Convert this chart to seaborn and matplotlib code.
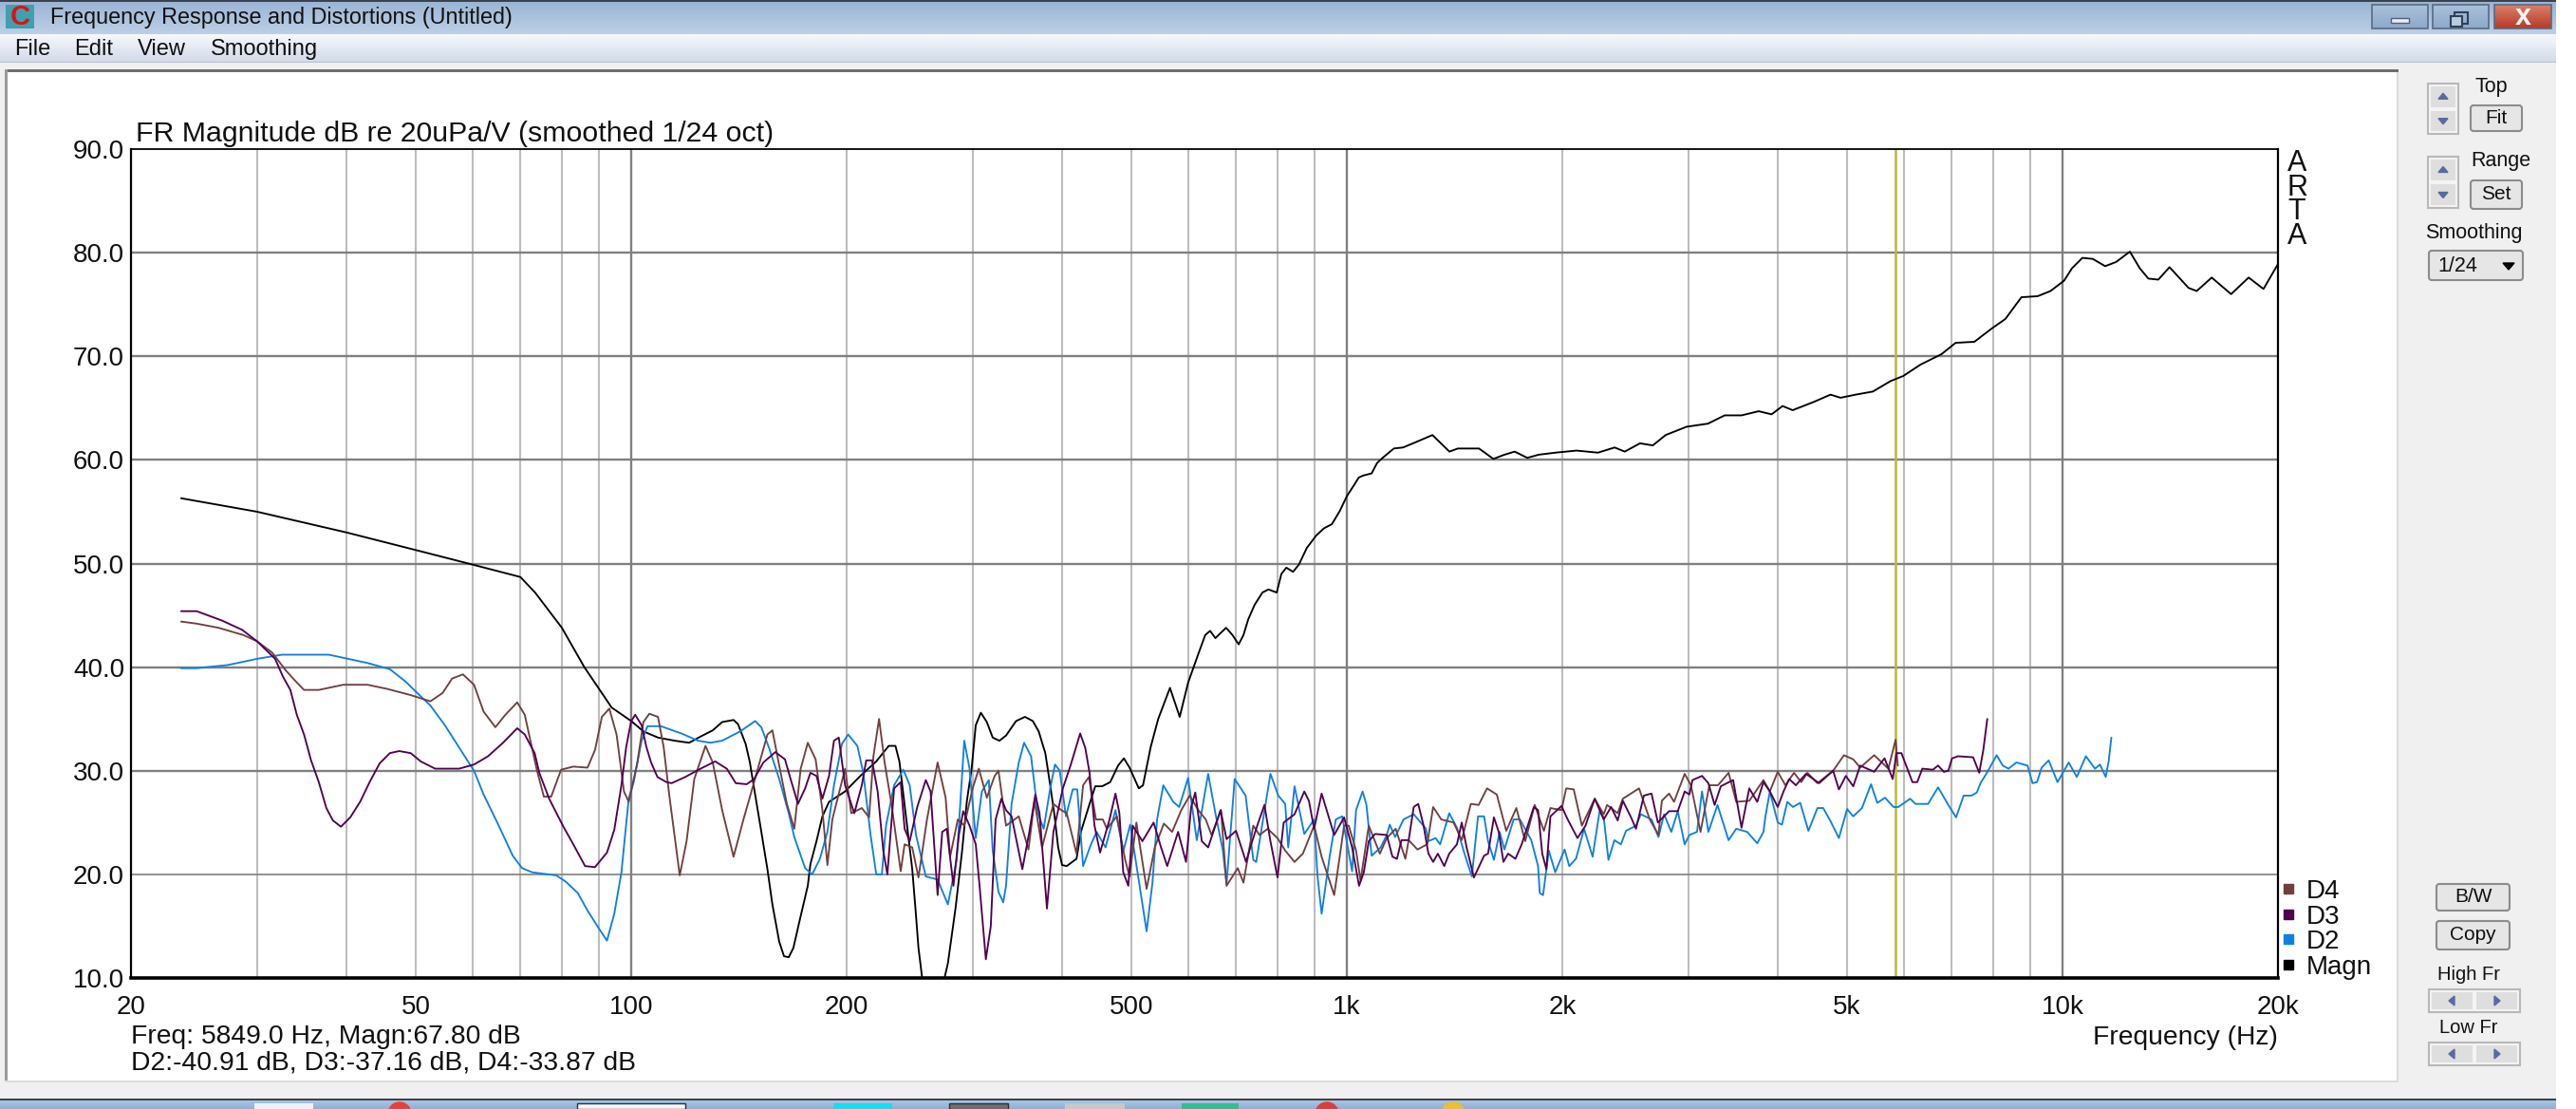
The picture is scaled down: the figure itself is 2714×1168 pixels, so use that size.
import numpy as np
import pandas as pd
import matplotlib
matplotlib.use("Agg")
import matplotlib.pyplot as plt
import seaborn as sns
from matplotlib.lines import Line2D
from matplotlib.patches import Circle, FancyBboxPatch, Polygon, Rectangle

# curves: frequency in Hz, level in dB
FREQ_MAGN = [23.5, 30, 40, 50, 60, 70, 73.4, 80, 86, 91, 93.9, 100, 104, 109, 115, 120.5, 125, 130, 134, 139, 141, 144.5, 146.5, 148.5, 151.5, 155, 157.5, 161, 163.5, 166, 168.5, 172, 176.5, 178, 181.5, 185, 189, 199, 209, 220, 229, 234, 237, 240, 243.5, 247, 249.5, 252, 255, 265, 274, 277, 284, 290, 294.5, 299, 303, 308, 314, 320, 327, 334, 345, 355, 364, 371, 379, 385, 390, 395, 400, 406, 419, 425, 437, 445, 455, 467, 479, 488, 497, 512, 519, 532, 545, 566, 584, 600, 621, 634, 644, 655, 678, 692, 706, 717, 728, 743, 762, 777, 798, 810, 823, 841, 857, 879, 906, 929, 953, 978, 1000, 1024, 1039, 1055, 1083, 1102, 1122, 1163, 1198, 1247, 1317, 1391, 1429, 1530, 1602, 1660, 1716, 1787, 1853, 1956, 2094, 2243, 2367, 2445, 2568, 2676, 2789, 2983, 3196, 3372, 3561, 3762, 3922, 4062, 4197, 4493, 4740, 4895, 5141, 5434, 5747, 5990, 6333, 6773, 7090, 7530, 7970, 8320, 8760, 9230, 9620, 10050, 10310, 10660, 11020, 11470, 11880, 12420, 12820, 13180, 13610, 14110, 15000, 15400, 16160, 17200, 18200, 19090, 20000]
DB_MAGN = [56.3, 55, 53, 51.3, 49.9, 48.7, 47.2, 43.8, 40, 37.5, 36.1, 34.8, 33.8, 33.2, 32.9, 32.7, 33.3, 33.9, 34.7, 34.9, 34.5, 32.6, 30.8, 28.3, 24.7, 20.5, 17.1, 13.5, 12.1, 12, 12.9, 15.6, 18.9, 21, 23.2, 25.6, 27, 28, 29.5, 30.9, 32.4, 32.4, 30.9, 27.7, 24.1, 20.5, 16.8, 12.9, 10, 8.5, 10, 11.4, 16.8, 22.3, 27.1, 30.2, 34.4, 35.6, 34.7, 33.2, 32.9, 33.4, 34.8, 35.2, 34.8, 33.8, 31.7, 28.6, 25.9, 22.6, 20.9, 20.8, 21.5, 24.1, 26.8, 28.5, 28.5, 28.9, 30.5, 31.2, 30.3, 28.3, 28.6, 32.3, 35, 38, 35.2, 38.5, 41.4, 43.1, 43.5, 42.8, 43.8, 43.1, 42.2, 43.1, 44.6, 46, 47.2, 47.5, 47.2, 49, 49.6, 49.2, 49.9, 51.5, 52.7, 53.4, 53.8, 55.1, 56.5, 57.6, 58.3, 58.5, 58.7, 59.7, 60.2, 61.1, 61.2, 61.7, 62.4, 60.8, 61.1, 61.1, 60.1, 60.5, 60.8, 60.2, 60.5, 60.7, 60.9, 60.7, 61.2, 60.8, 61.6, 61.4, 62.4, 63.2, 63.5, 64.3, 64.3, 64.7, 64.4, 65.2, 64.8, 65.6, 66.3, 66, 66.3, 66.6, 67.6, 68.1, 69.2, 70.2, 71.3, 71.4, 72.7, 73.6, 75.7, 75.8, 76.3, 77.3, 78.5, 79.5, 79.4, 78.7, 79.1, 80.1, 78.5, 77.5, 77.4, 78.6, 76.6, 76.3, 77.6, 76, 77.6, 76.5, 78.9]

FREQ_D2 = [23.5, 24.7, 27.3, 30, 32.5, 37.8, 42.8, 46, 48.4, 49.9, 52.4, 54.9, 58.4, 60.3, 62.2, 65.1, 68.3, 70.4, 72.7, 78.6, 81, 84.2, 86.9, 89.7, 92.5, 94.7, 96.9, 99.2, 100.8, 103.4, 105.4, 110, 117.5, 124, 129, 134, 142, 149, 152, 156, 161, 166, 169, 175, 179, 183.5, 188, 192, 197, 201, 207, 211, 216, 220, 224, 227, 233, 240, 245, 250, 258, 268, 277, 285, 292, 297, 303, 309, 316, 320, 326, 331, 334, 340, 348, 354, 362, 370, 377, 385, 391, 397, 405, 414, 420, 428, 439, 447, 460, 475, 487, 498, 514, 525, 535, 543, 554, 572, 583, 600, 617, 640, 655, 671, 679, 697, 722, 740, 747, 782, 802, 820, 828, 845, 872, 900, 910, 922, 946, 965, 985, 1017, 1030, 1052, 1065, 1083, 1115, 1137, 1148, 1168, 1200, 1240, 1290, 1300, 1330, 1350, 1390, 1425, 1460, 1495, 1525, 1555, 1575, 1605, 1635, 1660, 1710, 1745, 1810, 1850, 1860, 1880, 1915, 1955, 2015, 2045, 2090, 2145, 2205, 2255, 2285, 2320, 2365, 2415, 2455, 2535, 2575, 2665, 2725, 2775, 2840, 2900, 2965, 3010, 3085, 3135, 3200, 3295, 3415, 3500, 3625, 3745, 3820, 3845, 3900, 4000, 4055, 4125, 4200, 4300, 4415, 4545, 4630, 4735, 4870, 5000, 5100, 5245, 5400, 5510, 5650, 5805, 5895, 6125, 6230, 6490, 6700, 6925, 7100, 7275, 7460, 7590, 7680, 7840, 8090, 8250, 8405, 8620, 8935, 9080, 9210, 9350, 9565, 9840, 10200, 10470, 10780, 11100, 11280, 11490, 11600, 11700]
DB_D2 = [39.9, 39.9, 40.2, 40.8, 41.2, 41.2, 40.4, 39.8, 38.6, 37.7, 36.3, 34.4, 31.5, 30, 27.7, 24.9, 21.8, 20.6, 20.2, 19.9, 19.3, 18.2, 16.5, 15, 13.6, 16.2, 20.2, 27.3, 28.9, 32.9, 34.3, 34.3, 33.6, 32.9, 32.7, 32.9, 33.8, 34.8, 34.2, 32.1, 29.2, 25.9, 23.6, 20.6, 20, 21.5, 24.1, 28.6, 32.6, 33.5, 32.4, 29.8, 23.8, 20, 20, 24.7, 28.6, 30.1, 28.6, 23.8, 19.8, 19.5, 17.1, 21.4, 32.9, 30.2, 23.5, 28, 29.1, 22.3, 18.3, 17.3, 18.9, 26.8, 30.8, 32.7, 31.4, 25.9, 24.4, 28.3, 30.6, 30, 25.6, 28.2, 28.2, 20.8, 22.9, 24.1, 22.6, 26.2, 22.2, 24.8, 18.6, 14.5, 19.2, 25.3, 28.6, 27, 26.5, 29.3, 23.3, 29.7, 25.9, 22.3, 19.1, 29.2, 27.6, 21.4, 21.2, 29.7, 27.6, 26.8, 22.6, 28.5, 23.9, 25.3, 19.8, 16.2, 21.7, 25.3, 25.6, 20.3, 26.2, 28, 26.7, 21.8, 22.6, 23.8, 24.8, 23.6, 25.3, 25.8, 24.4, 23.2, 23.5, 22.9, 25.9, 24.5, 22, 19.8, 25.6, 25.6, 23.2, 21.4, 24.1, 22.4, 25.3, 25.3, 23.3, 20.8, 18.2, 18, 22.3, 20.2, 22.4, 20.8, 21.5, 24.4, 21.7, 26.1, 25.5, 21.4, 23.3, 22.9, 24.2, 24.7, 25.8, 25.3, 23.6, 25.8, 24.1, 26.1, 22.9, 23.8, 24.1, 28, 24.1, 26.7, 23.3, 24.4, 24.1, 23, 24.1, 25.6, 28, 25, 24.8, 27, 26.5, 26.9, 24.2, 26.4, 26.4, 25.2, 23.5, 26.3, 25.6, 26.4, 28.7, 26.9, 27.4, 26.5, 26.5, 27.3, 26.8, 26.8, 28.4, 26.7, 25.5, 27.6, 27.6, 27.9, 28.8, 29.8, 31.5, 30.5, 30.2, 30.8, 30.5, 28.8, 28.9, 30.3, 31, 28.9, 30.8, 29.4, 31.4, 30.2, 30.6, 29.4, 30.9, 33.2]

FREQ_D3 = [23.5, 24.7, 26.8, 28.6, 30, 31.8, 32.6, 33.4, 34.1, 34.9, 35.7, 36.6, 37.5, 38.3, 39.3, 40.5, 41.8, 43.1, 44.5, 46, 47.4, 49.2, 50.8, 53.2, 57.5, 60.3, 63.1, 66.2, 69.3, 71, 73.3, 74.4, 76.8, 80.4, 83, 86.2, 89, 92.5, 94.7, 96.9, 98.4, 100, 101.3, 103.4, 105, 106.6, 108.8, 112, 113.9, 119, 125, 131, 136, 140, 145, 148.5, 153, 159, 164, 167, 171, 175, 178, 181.5, 185, 189, 192, 195, 199, 205, 210, 213, 217, 221, 225, 228, 233, 238, 241, 245, 251, 258, 262, 268, 272, 276, 282, 287, 291, 297, 303, 307, 313, 318, 323, 329, 334, 340, 352, 360, 367, 372, 381, 389, 395, 401, 411, 424, 431, 437, 444, 452, 466, 475, 481, 487, 495, 502, 518, 537, 550, 561, 581, 596, 606, 614, 627, 640, 666, 679, 700, 723, 735, 752, 767, 782, 800, 816, 845, 872, 885, 900, 922, 960, 991, 1017, 1040, 1056, 1073, 1095, 1137, 1158, 1175, 1192, 1220, 1240, 1258, 1280, 1300, 1320, 1340, 1368, 1390, 1425, 1447, 1470, 1505, 1555, 1575, 1605, 1630, 1655, 1680, 1720, 1755, 1825, 1850, 1875, 1900, 1925, 1995, 2035, 2100, 2155, 2220, 2285, 2340, 2390, 2430, 2495, 2535, 2600, 2665, 2720, 2820, 2900, 2965, 3010, 3040, 3135, 3200, 3265, 3330, 3465, 3560, 3650, 3745, 3820, 3900, 4000, 4075, 4150, 4240, 4380, 4570, 4780, 4870, 4980, 5100, 5215, 5455, 5640, 5790, 5860, 5955, 6170, 6265, 6370, 6590, 6700, 6825, 6925, 7010, 7145, 7500, 7650, 7750, 7850]
DB_D3 = [45.4, 45.4, 44.5, 43.6, 42.5, 40.8, 39.1, 37.8, 35.4, 33.5, 31, 28.9, 26.4, 25.2, 24.6, 25.5, 27, 28.9, 30.7, 31.7, 31.9, 31.7, 30.9, 30.2, 30.2, 30.6, 31.4, 32.7, 34.1, 33.5, 31.7, 29.8, 27.3, 24.6, 22.9, 20.8, 20.7, 22.1, 24.3, 28.6, 32.3, 34.8, 35.4, 34.4, 32.3, 30.8, 29.4, 28.9, 28.8, 29.4, 30.2, 30.9, 30.2, 28.8, 28.7, 29.2, 30.8, 31.8, 31.1, 29.2, 26.8, 28.3, 29.8, 29.5, 27.3, 29.5, 32.9, 33.2, 28.6, 25.9, 28.6, 31, 31, 28, 22.3, 20, 28.3, 28.9, 24.4, 23.2, 26.5, 29.1, 28, 18, 24.1, 24.4, 18.9, 23.8, 26.1, 24.7, 22.9, 18.6, 11.8, 15, 25.3, 27.3, 26.2, 25.6, 20.5, 24.1, 27.7, 25.9, 16.7, 24.1, 26.2, 28.3, 30.5, 33.6, 32.2, 29.8, 24.7, 22.1, 25.3, 27.8, 25.9, 20.2, 18.9, 24.7, 23.2, 25, 22.6, 20.8, 24.1, 21.2, 26.5, 27.9, 23.2, 22.6, 26.2, 23.4, 24.2, 21.2, 22.9, 25, 26.7, 23.2, 19.7, 25, 25.8, 28, 27.1, 24.4, 27.8, 23.8, 25.5, 22.6, 18.9, 20.2, 23.2, 23.9, 23.8, 21.7, 21.5, 23.3, 23.3, 26.5, 26.8, 24.7, 22, 21.2, 22, 20.8, 22, 22.9, 25, 22.6, 19.7, 21.8, 22, 25.5, 24.1, 21.2, 22, 21.5, 22.9, 26.5, 26.2, 22, 20.5, 25.6, 26.6, 25.3, 23.5, 24.7, 27.3, 25.3, 26.5, 25.2, 27.1, 25.5, 24.4, 27.6, 27.8, 25, 26.1, 26.1, 28, 27.7, 29.1, 29.5, 28.8, 26.7, 28.5, 29.1, 24.5, 28.3, 27, 28.9, 28, 26.5, 28, 29.2, 28.6, 29.7, 28.8, 30, 28.2, 29.5, 28.5, 30.5, 29.9, 31.2, 29.2, 31.7, 31.7, 28.9, 28.9, 30.2, 30.1, 30.5, 29.9, 30, 31.2, 31.4, 31.3, 29.8, 32, 35]

FREQ_D4 = [23.5, 24.7, 26.5, 28.7, 30, 31.5, 32.9, 33.9, 34.9, 36.6, 39.6, 42.8, 45.6, 49.2, 52.4, 54.5, 56.2, 58.2, 60.3, 62.2, 64.6, 66.7, 69.3, 71, 73.8, 75.5, 77.3, 79.8, 83, 86.9, 89, 91, 93.2, 95.4, 97.7, 99.2, 102, 104, 106, 109, 111, 113, 116.9, 119.5, 122.5, 127, 130, 134, 139, 143.5, 148.5, 155, 157.5, 161, 165, 169, 172.5, 176.5, 181, 185, 188, 191, 199, 203, 210, 215, 218, 222, 226, 231, 238, 241, 247, 252, 259, 268, 275, 279, 286, 292, 300, 306, 314, 322, 326, 334, 348, 359, 366, 375, 389, 399, 406, 419, 428, 436, 446, 456, 462, 477, 490, 497, 508, 525, 539, 555, 570, 587, 603, 620, 635, 647, 667, 679, 704, 717, 740, 755, 775, 800, 820, 845, 868, 900, 922, 960, 980, 991, 1006, 1030, 1045, 1073, 1112, 1137, 1170, 1207, 1220, 1255, 1295, 1320, 1355, 1410, 1447, 1490, 1528, 1570, 1620, 1670, 1725, 1775, 1830, 1885, 1925, 1995, 2025, 2075, 2130, 2220, 2285, 2310, 2390, 2430, 2560, 2650, 2725, 2755, 2820, 2865, 2965, 3025, 3120, 3210, 3300, 3415, 3500, 3650, 3820, 3900, 4000, 4100, 4215, 4315, 4400, 4545, 4780, 4950, 5100, 5215, 5455, 5710, 5845, 5885]
DB_D4 = [44.4, 44.2, 43.8, 43.1, 42.5, 41.4, 39.7, 38.7, 37.8, 37.8, 38.3, 38.3, 37.9, 37.3, 36.7, 37.5, 38.9, 39.3, 38.3, 35.7, 34.2, 35.4, 36.6, 35.4, 30.1, 27.5, 27.5, 30.1, 30.4, 30.3, 32, 35.2, 36, 33.5, 28, 27, 30.8, 34.7, 35.5, 35.2, 32.3, 27.7, 19.9, 23.2, 29.2, 32.4, 30.8, 26.2, 21.7, 25.3, 28.9, 33.5, 33.9, 30.5, 26.8, 24.4, 30.2, 32.7, 31.1, 26.2, 20.9, 25.3, 30.2, 25.9, 26.4, 25.5, 31.4, 35, 30.8, 26.8, 20.3, 22.9, 22.6, 19.7, 25.3, 30.8, 27.4, 21.7, 25.3, 24.7, 28.3, 30.2, 27.4, 29.5, 30, 24.7, 25.6, 22.4, 27.1, 22.6, 26.8, 26.2, 25.9, 22, 28.6, 29.4, 25.3, 25.3, 24.4, 25.6, 21.4, 19.8, 25, 18.6, 22.6, 24.9, 24.1, 26.2, 27.6, 26.2, 25.3, 23.8, 26.2, 18.9, 20.6, 19.2, 24.7, 23.8, 24.4, 23.5, 22.3, 21.2, 22, 24.7, 21.7, 18, 22.3, 24.7, 24.7, 22.3, 19.4, 24.7, 22, 23.5, 24.4, 21.5, 23.3, 22.4, 22.9, 26.5, 25.3, 25, 23.3, 26.8, 26.7, 28.3, 27.7, 24.2, 26.4, 23.2, 26.7, 24.2, 26.4, 26.2, 28.3, 28.2, 24.7, 27.3, 25.8, 26.7, 25.9, 27.3, 28.3, 25.3, 23.8, 27.1, 27.8, 27, 29.7, 28.6, 24.1, 28.6, 28.6, 29.8, 27, 27.1, 29.1, 28, 29.9, 28.6, 29.8, 28.9, 29.8, 28.8, 30, 31.5, 31.1, 30.3, 31.5, 30.2, 33, 30.5]

SERIES_NAMES = ["Magn", "D2", "D4", "D3"]
LEGEND_ORDER = ["D4", "D3", "D2", "Magn"]
COLORS = {"Magn": "#000000", "D2": "#1080e0", "D3": "#500050", "D4": "#704040"}

Y_TICKS = [10, 20, 30, 40, 50, 60, 70, 80, 90]
X_TICKS = [20, 50, 100, 200, 500, 1000, 2000, 5000, 10000, 20000]
X_LABELS = ["20", "50", "100", "200", "500", "1k", "2k", "5k", "10k", "20k"]
GRID_LIGHT = [30, 40, 50, 60, 70, 80, 90, 200, 300, 400, 500, 600, 700, 800, 900,
              2000, 3000, 4000, 5000, 6000, 7000, 8000, 9000]
GRID_DARK = [100, 1000, 10000]
CURSOR_FREQ = 5849

W, H = 2714, 1168
PLOT = (138, 157, 2400, 1030)  # left, top, right, bottom in pixels

sns.set_style("white")
plt.rcParams["font.family"] = ["Liberation Sans", "DejaVu Sans"]

fig = plt.figure(figsize=(W / 100, H / 100), dpi=100, facecolor="white")

# window chrome drawn in pixel coordinates behind the chart
bg = fig.add_axes([0, 0, 1, 1], zorder=0)
bg.set_xlim(0, W)
bg.set_ylim(H, 0)
bg.axis("off")


def rect(x0, y0, x1, y1, color, edge="none", lw=0, z=1):
    bg.add_patch(Rectangle((x0, y0), x1 - x0, y1 - y0, facecolor=color, edgecolor=edge, linewidth=lw, zorder=z))


def vgrad(x0, y0, x1, y1, top, bottom, z=1):
    c0, c1 = matplotlib.colors.to_rgb(top), matplotlib.colors.to_rgb(bottom)
    g = np.linspace(0, 1, 32)[:, None, None]
    img = (1 - g) * np.array(c0)[None, None, :] + g * np.array(c1)[None, None, :]
    bg.imshow(img, extent=(x0, x1, y1, y0), aspect="auto", zorder=z, interpolation="bilinear")
    bg.set_xlim(0, W)
    bg.set_ylim(H, 0)


def label(x, y, s, size=15.5, ha="left", color="#101010", **kw):
    bg.text(x, y, s, fontsize=size, ha=ha, va="center", color=color, zorder=5, **kw)


def button(x0, y0, x1, y1, s=None, size=15):
    bg.add_patch(FancyBboxPatch((x0 + 3, y0 + 3), x1 - x0 - 6, y1 - y0 - 6, boxstyle="round,pad=3",
                                facecolor="#e6e6e6", edgecolor="#8c8c8c", linewidth=1.5, zorder=3))
    if s:
        label((x0 + x1) / 2, (y0 + y1) / 2, s, size=size, ha="center")


def spin(x0, y0, x1, y1, vertical=True):
    rect(x0, y0, x1, y1, "#f4f4f4", "#b8b8b8", 1.5, 3)
    if vertical:
        m = (y0 + y1) / 2
        cx = (x0 + x1) / 2
        rect(x0 + 3, y0 + 3, x1 - 3, m - 2, "#dedede", z=3)
        rect(x0 + 3, m + 2, x1 - 3, y1 - 3, "#dedede", z=3)
        bg.add_patch(Polygon([(cx - 5, (y0 + m) / 2 + 3), (cx + 5, (y0 + m) / 2 + 3), (cx, (y0 + m) / 2 - 3)], color="#5a6aa0", zorder=4))
        bg.add_patch(Polygon([(cx - 5, (y1 + m) / 2 - 3), (cx + 5, (y1 + m) / 2 - 3), (cx, (y1 + m) / 2 + 3)], color="#5a6aa0", zorder=4))
    else:
        m = (x0 + x1) / 2
        cy = (y0 + y1) / 2
        rect(x0 + 3, y0 + 3, m - 2, y1 - 3, "#dedede", z=3)
        rect(m + 2, y0 + 3, x1 - 3, y1 - 3, "#dedede", z=3)
        cl, cr = (x0 + m) / 2, (x1 + m) / 2
        bg.add_patch(Polygon([(cl + 3, cy - 5), (cl + 3, cy + 5), (cl - 3, cy)], color="#5a6aa0", zorder=4))
        bg.add_patch(Polygon([(cr - 3, cy - 5), (cr - 3, cy + 5), (cr + 3, cy)], color="#5a6aa0", zorder=4))


# window frame
rect(0, 0, 2693, 1158, "#f0f0f0")
rect(0, 0, 2693, 2, "#3a4250", z=2)
vgrad(0, 2, 2693, 36, "#9ab5d4", "#bcd0e6", z=2)
vgrad(0, 36, 2693, 65, "#f6f8fc", "#d2dbea", z=2)
rect(0, 65, 2693, 66, "#b8c0cc", z=2)

# title bar and menu
rect(6, 5, 36, 30, "#3fa0b0", z=3)
label(21, 18, "C", size=21, ha="center", color="#e01010", fontweight="bold")
label(53, 18, "Frequency Response and Distortions (Untitled)", size=16.8)
for x, s in zip([15, 78, 145, 222], ["File", "Edit", "View", "Smoothing"]):
    label(x, 52, s, size=17)
for x0, x1, top, bottom in [(2499, 2558, "#a9c0da", "#8ea9c9"), (2563, 2622, "#a9c0da", "#8ea9c9"), (2628, 2688, "#d9806c", "#b83a28")]:
    vgrad(x0, 5, x1, 30, top, bottom, z=3)
    bg.add_patch(Rectangle((x0, 5), x1 - x0, 25, facecolor="none", edgecolor="#5a6a80", linewidth=1.2, zorder=4))
rect(2519, 19, 2538, 24, "#e8eef6", "#50607a", 1, 5)
rect(2586, 13, 2600, 25, "none", "#30405a", 1.5, 5)
rect(2582, 17, 2594, 28, "#b8cbe0", "#30405a", 1.5, 5)
label(2658, 18, "x", size=22, ha="center", color="#f4f4f4", fontweight="bold")

# white plot panel
rect(5, 73, 2527, 1140, "white", z=2)
rect(5, 73, 2527, 76, "#6e6e6e", z=3)
rect(5, 73, 8, 1140, "#9a9a9a", z=3)
rect(2525, 76, 2527, 1140, "#dcdcdc", z=3)
rect(5, 1138, 2527, 1140, "#dcdcdc", z=3)

# right hand controls
spin(2558, 88, 2590, 141)
label(2625, 92, "Top", size=15.5, ha="center")
button(2603, 111, 2657, 138, "Fit")
spin(2558, 165, 2590, 219)
label(2635, 169, "Range", size=15.5, ha="center")
button(2603, 190, 2657, 220, "Set")
label(2606, 245, "Smoothing", size=15.5, ha="center")
button(2559, 264, 2658, 295)
label(2568, 280, "1/24", size=15.5)
bg.add_patch(Polygon([(2637, 277), (2649, 277), (2643, 284)], color="black", zorder=5))
button(2567, 931, 2644, 959, "B/W", size=15)
button(2567, 970, 2644, 1000, "Copy", size=15)
label(2601, 1026, "High Fr", size=14.5, ha="center")
spin(2559, 1042, 2655, 1066, vertical=False)
label(2601, 1083, "Low Fr", size=14.5, ha="center")
spin(2559, 1098, 2655, 1122, vertical=False)

# taskbar strip
rect(0, 1157, 2693, 1159, "#3a4250", z=2)
vgrad(0, 1159, 2693, H, "#a9c4e0", "#8fb0d4", z=2)
for x0, x1, c in [(268, 330, "#eef2f6"), (608, 722, "#f4f6f8"), (878, 940, "#10e0f0"), (1000, 1062, "#707070"),
                  (1122, 1185, "#c8c8c8"), (1245, 1305, "#30c090")]:
    rect(x0, 1162, x1, H, c, "#303030" if x0 in (608, 1000) else "none", 1, 3)
for cx, c in [(421, "#e84040"), (1398, "#d84040"), (1531, "#e8c030")]:
    bg.add_patch(Circle((cx, 1173), 12, color=c, zorder=3))

# chart
ax = fig.add_axes([PLOT[0] / W, 1 - PLOT[3] / H, (PLOT[2] - PLOT[0]) / W, (PLOT[3] - PLOT[1]) / H], zorder=2)
ax.set_facecolor("white")
ax.set_xscale("log")

for f in GRID_LIGHT:
    ax.axvline(f, color="#bdbdbd", lw=1.5, zorder=1)
for f in GRID_DARK:
    ax.axvline(f, color="#808080", lw=1.7, zorder=1)
for y in Y_TICKS[1:-1]:
    ax.axhline(y, color="#808080", lw=1.7 if y != 20 else 1.2, zorder=1)
ax.axvline(CURSOR_FREQ, color="#b8b838", lw=1.8, zorder=1.5)

curves = {
    "Magn": (FREQ_MAGN, DB_MAGN),
    "D2": (FREQ_D2, DB_D2),
    "D3": (FREQ_D3, DB_D3),
    "D4": (FREQ_D4, DB_D4),
}
for name in SERIES_NAMES:
    freq, db = curves[name]
    frame = pd.DataFrame({"freq": freq, "db": db})
    sns.lineplot(data=frame, x="freq", y="db", estimator=None, color=COLORS[name],
                 lw=1.35, ax=ax, zorder=3)

ax.set_xlim(20, 20000)
ax.set_ylim(10, 90)
ax.set_xticks(X_TICKS)
ax.set_xticklabels(X_LABELS)
ax.xaxis.set_minor_locator(matplotlib.ticker.NullLocator())
ax.set_yticks(Y_TICKS)
ax.set_yticklabels([f"{y:.1f}" for y in Y_TICKS])
ax.tick_params(axis="both", length=0, labelsize=20, colors="#101010")
ax.tick_params(axis="x", pad=13)
ax.tick_params(axis="y", pad=5)
ax.set_title("FR Magnitude dB re 20uPa/V (smoothed 1/24 oct)", loc="left", fontsize=21.8,
             color="#101010", pad=6, x=0.002)
ax.set_xlabel("Frequency (Hz)", loc="right", fontsize=20.3, labelpad=4, color="#101010")
ax.set_ylabel("")

for side, lw in [("left", 1.6), ("right", 1.6), ("top", 1.3), ("bottom", 2.6)]:
    ax.spines[side].set_visible(True)
    ax.spines[side].set_color("black")
    ax.spines[side].set_linewidth(lw)

handles = [Line2D([], [], ls="none", marker="s", ms=7, color=COLORS[n], label=n) for n in LEGEND_ORDER]
ax.legend(handles=handles, loc="lower left", bbox_to_anchor=(1.002, -0.002), frameon=False, fontsize=20,
          handlelength=0.45, handletextpad=0.45, labelspacing=0.02, borderpad=0, borderaxespad=0,
          labelcolor="#101010")

# ARTA mark and cursor read-out
for y, s in zip([172, 198, 223, 249], "ARTA"):
    label(2420, y, s, size=22, ha="center")
label(138, 1092, "Freq: 5849.0 Hz, Magn:67.80 dB", size=20.3)
label(138, 1120, "D2:-40.91 dB, D3:-37.16 dB, D4:-33.87 dB", size=20.3)

fig.savefig("out.png", dpi=100)
